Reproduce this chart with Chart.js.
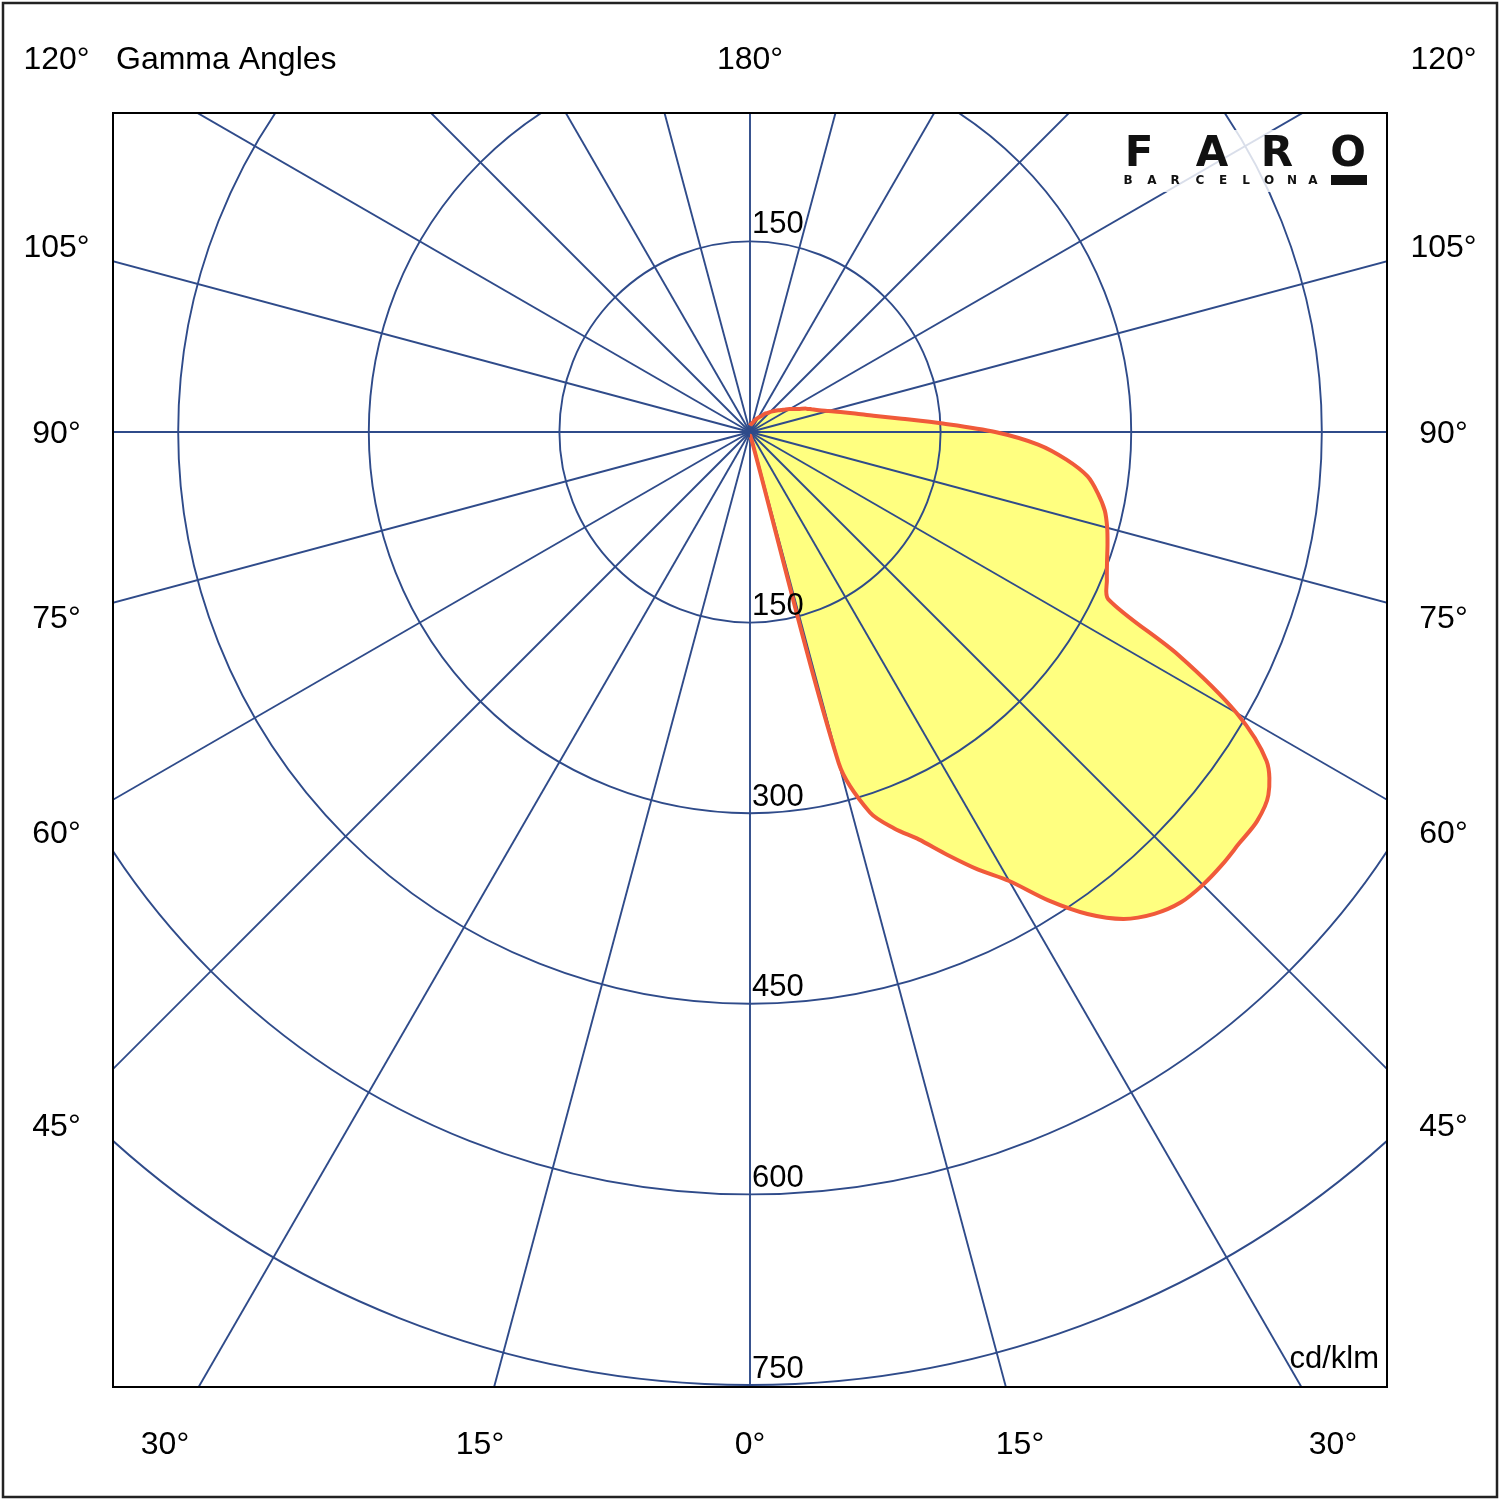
<!DOCTYPE html>
<html>
<head>
<meta charset="utf-8">
<title>Gamma Angles</title>
<script src="https://cdn.jsdelivr.net/npm/chart.js@4.4.1/dist/chart.umd.min.js"></script>
<style>
  html, body { margin: 0; padding: 0; background: #fff; }
  #wrap { width: 1500px; height: 1500px; position: relative; }
</style>
</head>
<body>
<div id="wrap"><canvas id="polarChart"></canvas></div>
<script>
// gamma angles (deg) and intensity (cd/klm)
const gammaAngles = [0, 2.5, 5, 7.5, 10, 12.5, 15, 17.5, 20, 22.5, 25, 27.5, 30, 32.5, 35, 37.5, 40, 42.5, 45, 47.5,
  50, 52.5, 55, 57.5, 60, 62.5, 65, 67.5, 70, 72.5, 75, 77.5, 80, 82.5, 85, 87.5, 90, 92.5, 95, 97.5,
  100, 102.5, 105, 107.5, 110, 112.5, 115, 117.5, 120, 122.5, 125, 127.5, 130, 132.5, 135, 137.5, 140, 142.5, 145, 147.5,
  150, 152.5, 155, 157.5, 160, 162.5, 165, 167.5, 170, 172.5, 175, 177.5, 180];
const intensity = [3, 3, 3, 4, 5, 8, 270, 314, 332, 347, 367, 388, 408, 437, 463, 483, 495, 502, 504, 504,
  503, 503, 498, 482, 442, 380, 311, 304, 299, 295, 291, 286, 278, 268, 250, 227, 193, 152, 120, 98,
  84, 73, 64, 57, 52, 48, 43, 39, 36, 33, 30, 28, 26, 24, 22, 20, 19, 17, 15, 14,
  13, 12, 11, 10, 9, 8, 7.5, 7, 6.5, 6, 6, 5.5, 5];

const ringValues = [150, 300, 450, 600, 750];
const ringLabels = ["150", "300", "450", "600", "750"];
const spokeStep = 15;
const topLabels = ["120°", "180°", "120°"];
const sideLabels = ["105°", "90°", "75°", "60°", "45°"];
const bottomLabels = ["30°", "15°", "0°", "15°", "30°"];

const gridColor = "#2f4b8a";
const fontName = "'Liberation Sans', Arial, sans-serif";

// polar -> cartesian data values (0° points down)
const curvePoints = gammaAngles.map((g, i) => {
  const rad = g * Math.PI / 180;
  return { x: intensity[i] * Math.sin(rad), y: -intensity[i] * Math.cos(rad) };
});

const polarGrid = {
  id: "polarGrid",
  afterDatasetDraw(chart, args) {
    if (args.index !== 1) return;
    const ctx = chart.ctx;
    const a = chart.chartArea;
    const x = chart.scales.x, y = chart.scales.y;
    const cx = x.getPixelForValue(0), cy = y.getPixelForValue(0);
    ctx.save();
    ctx.beginPath();
    ctx.rect(a.left, a.top, a.right - a.left, a.bottom - a.top);
    ctx.clip();
    ctx.strokeStyle = gridColor;
    ctx.lineWidth = 1.9;
    ringValues.forEach(v => {
      const r = x.getPixelForValue(v) - cx;
      ctx.beginPath();
      ctx.arc(cx, cy, r, 0, Math.PI * 2);
      ctx.stroke();
    });
    for (let g = 0; g < 360; g += spokeStep) {
      const rad = g * Math.PI / 180;
      ctx.beginPath();
      ctx.moveTo(cx, cy);
      ctx.lineTo(cx + 2500 * Math.sin(rad), cy + 2500 * Math.cos(rad));
      ctx.stroke();
    }
    ctx.restore();
  },
  afterDraw(chart) {
    const ctx = chart.ctx;
    const a = chart.chartArea;
    const W = chart.width, H = chart.height;
    const x = chart.scales.x, y = chart.scales.y;
    const cx = x.getPixelForValue(0), cy = y.getPixelForValue(0);
    ctx.save();

    // plot frame and outer frame
    ctx.strokeStyle = "#000";
    ctx.lineWidth = 2;
    ctx.strokeRect(a.left, a.top, a.right - a.left, a.bottom - a.top);
    ctx.strokeStyle = "#222";
    ctx.lineWidth = 2.5;
    ctx.strokeRect(3, 3, W - 6, H - 6);

    // ring value labels along the 0° spoke
    ctx.fillStyle = "#000";
    ctx.font = "31px " + fontName;
    ctx.textAlign = "left";
    ctx.textBaseline = "middle";
    ctx.fillText(ringLabels[0], cx + 2, cy - (x.getPixelForValue(ringValues[0]) - cx) - 17);
    ringValues.forEach((v, i) => {
      ctx.fillText(ringLabels[i], cx + 2, y.getPixelForValue(-v) - 16);
    });

    // angle labels around the frame
    ctx.font = "32px " + fontName;
    ctx.textAlign = "center";
    const leftX = a.left / 2, rightX = (a.right + W) / 2;
    const topY = a.top / 2 + 4, botY = (a.bottom + H) / 2 + 2;
    ctx.fillText(topLabels[0], leftX, topY);
    ctx.fillText(topLabels[1], cx, topY);
    ctx.fillText(topLabels[2], rightX, topY);
    ctx.textAlign = "left";
    ctx.fillText("Gamma Angles", a.left + 3, topY);
    ctx.textAlign = "center";
    const sideY = [248, 434, 619, 834, 1127];
    sideLabels.forEach((t, i) => {
      ctx.fillText(t, leftX, sideY[i]);
      ctx.fillText(t, rightX, sideY[i]);
    });
    const botX = [165, 480, 750, 1020, 1333];
    bottomLabels.forEach((t, i) => ctx.fillText(t, botX[i], botY));

    // unit
    ctx.font = "31px " + fontName;
    ctx.textAlign = "right";
    ctx.fillText("cd/klm", a.right - 8, a.bottom - 28);

    // logo
    ctx.fillStyle = "rgba(255,255,255,0.82)";
    ctx.fillRect(1118, 130, 256, 62);
    ctx.fillStyle = "#111";
    ctx.font = "bold 42px 'DejaVu Sans', sans-serif";
    ctx.textAlign = "center";
    const logoX = [1139, 1212, 1277, 1348];
    "FARO".split("").forEach((c, i) => ctx.fillText(c, logoX[i], 155));
    ctx.font = "bold 12px 'DejaVu Sans', sans-serif";
    const subX = [1128, 1152, 1175, 1200, 1223, 1246, 1269, 1292, 1313];
    "BARCELONA".split("").forEach((c, i) => ctx.fillText(c, subX[i], 181));
    ctx.fillRect(1331, 175, 36, 10);

    ctx.restore();
  }
};

const ctx = document.getElementById("polarChart").getContext("2d");
const chart = new Chart(ctx, {
  type: "scatter",
  data: {
    datasets: [{
      label: "outline",
      data: curvePoints,
      showLine: true,
      borderColor: "#f05a3a",
      borderWidth: 4,
      pointRadius: 0,
      tension: 0.3,
      fill: false
    }, {
      label: "area",
      data: curvePoints,
      showLine: true,
      borderColor: "rgba(0,0,0,0)",
      borderWidth: 0,
      backgroundColor: "#ffff80",
      pointRadius: 0,
      tension: 0.3,
      fill: "shape"
    }]
  },
  options: {
    responsive: true,
    maintainAspectRatio: false,
    animation: false,
    layout: { padding: { left: 113, right: 113, top: 113, bottom: 113 } },
    scales: {
      x: { type: "linear", min: -501.3, max: 501.3, display: false },
      y: { type: "linear", min: -751.5, max: 251, display: false }
    },
    plugins: {
      legend: { display: false },
      tooltip: { enabled: false }
    }
  },
  plugins: [polarGrid]
});
</script>
</body>
</html>
